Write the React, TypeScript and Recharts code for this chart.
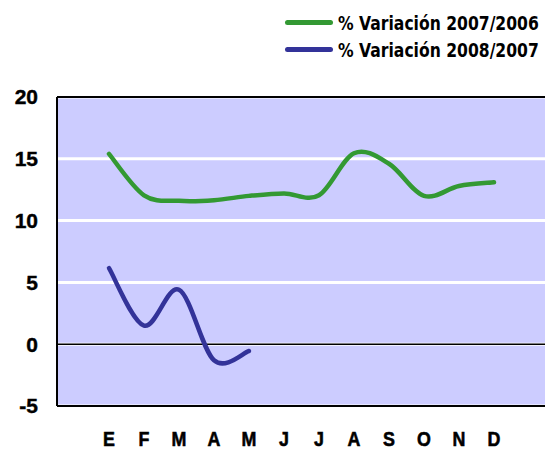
import React from "react";
import { LineChart, Line, XAxis, YAxis, CartesianGrid, ReferenceLine } from "recharts";

const months = ["E", "F", "M", "A", "M", "J", "J", "A", "S", "O", "N", "D"];
const var2007 = [15.4, 12.05, 11.6, 11.65, 12.0, 12.2, 12.05, 15.45, 14.6, 12.0, 12.8, 13.1];
const var2008: (number | null)[] = [6.15, 1.5, 4.4, -1.3, -0.55, null, null, null, null, null, null, null];
const yTicks = [-5, 0, 5, 10, 15, 20];
const seriesNames = ["% Variación 2007/2006", "% Variación 2008/2007"];
const colors = ["#339933", "#333399"];

const data = months.map((m, i) => ({ idx: i, m, a: var2007[i], b: var2008[i] }));

const tickFont = "Arial, 'Liberation Sans', Helvetica, sans-serif";

// Catmull-Rom style smoothing (like spreadsheet "smoothed line")
const smoothCurve = (context: any) => {
  let pts: number[][] = [];
  return {
    areaStart() {},
    areaEnd() {},
    lineStart() {
      pts = [];
    },
    point(x: number, y: number) {
      pts.push([+x, +y]);
    },
    lineEnd() {
      const n = pts.length;
      if (!n) return;
      context.moveTo(pts[0][0], pts[0][1]);
      if (n === 1) {
        context.lineTo(pts[0][0], pts[0][1]);
        return;
      }
      for (let i = 0; i < n - 1; i++) {
        const p0 = pts[i - 1] || pts[i];
        const p1 = pts[i];
        const p2 = pts[i + 1];
        const p3 = pts[i + 2] || pts[i + 1];
        context.bezierCurveTo(
          p1[0] + (p2[0] - p0[0]) / 6,
          p1[1] + (p2[1] - p0[1]) / 6,
          p2[0] - (p3[0] - p1[0]) / 6,
          p2[1] - (p3[1] - p1[1]) / 6,
          p2[0],
          p2[1]
        );
      }
    },
  };
};

const MonthTick = (props: any) => {
  const { x, y, payload } = props;
  return (
    <g transform={`translate(${x},${y})`}>
      <text
        textAnchor="middle"
        dy="0.71em"
        fill="#000"
        fontSize={21}
        fontWeight={900}
        fontFamily={tickFont}
        transform="scale(0.85,1)"
        stroke="#000"
        strokeWidth={0.6}
      >
        {months[payload.value]}
      </text>
    </g>
  );
};

export default function App() {
  return (
    <div style={{ position: "absolute", left: 0, top: 0, width: 545, height: 451, background: "#fff", overflow: "hidden" }}>
      <LineChart width={545} height={451} data={data} margin={{ top: 97, right: 0, bottom: 0, left: 0 }}>
        <CartesianGrid horizontal={true} vertical={false} fill="#CCCCFF" stroke="#FFFFFF" strokeWidth={3} fillOpacity={1} />
        <XAxis
          dataKey="idx"
          type="category"
          padding={{ left: 52, right: 51 }}
          height={45}
          tickLine={false}
          tickSize={0}
          tickMargin={25}
          axisLine={{ stroke: "#000", strokeWidth: 2 }}
          tick={<MonthTick />}
          interval={0}
        />
        <YAxis
          domain={[-5, 20]}
          ticks={yTicks}
          width={57}
          tickLine={false}
          tickSize={0}
          tickMargin={19}
          axisLine={{ stroke: "#000", strokeWidth: 2 }}
          tick={{ fill: "#000", fontSize: 21, fontWeight: 700, fontFamily: tickFont, stroke: "#000", strokeWidth: 0.4 }}
          allowDataOverflow
        />
        <ReferenceLine y={0} stroke="#000" strokeWidth={1.5} />
        <ReferenceLine y={20} stroke="#000" strokeWidth={2} />
        <Line type={smoothCurve as any} dataKey="a" name={seriesNames[0]} stroke={colors[0]} strokeWidth={4.5} strokeLinecap="round" dot={false} isAnimationActive={false} />
        <Line type={smoothCurve as any} dataKey="b" name={seriesNames[1]} stroke={colors[1]} strokeWidth={4.5} strokeLinecap="round" dot={false} isAnimationActive={false} connectNulls={false} />
      </LineChart>
      <div
        style={{
          position: "absolute",
          top: 9,
          left: 285,
          width: 320,
          fontFamily: "'DejaVu Sans', sans-serif",
          fontWeight: 700,
          fontSize: 20,
          color: "#000",
        }}
      >
        {seriesNames.map((n, i) => (
          <div key={n} style={{ display: "flex", alignItems: "center", height: 27 }}>
            <div style={{ width: 48, height: 5, borderRadius: 3, background: colors[i], marginRight: 5, flexShrink: 0 }} />
            <span style={{ whiteSpace: "nowrap", flexShrink: 0, display: "inline-block", transform: "scaleX(0.78)", transformOrigin: "left center" }}>{n}</span>
          </div>
        ))}
      </div>
    </div>
  );
}
